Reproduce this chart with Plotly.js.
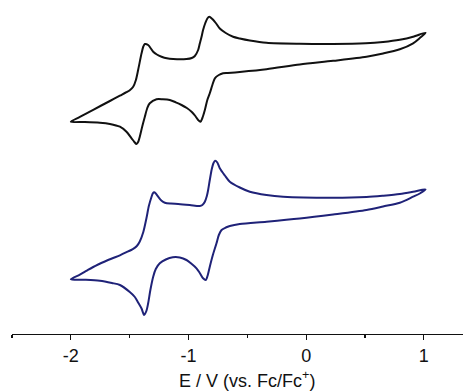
<!DOCTYPE html>
<html>
<head>
<meta charset="utf-8">
<script src="https://cdn.plot.ly/plotly-3.0.1.min.js"></script>
<style>html,body{margin:0;padding:0;background:#fff;}#chart{width:463px;height:392px;}</style>
</head>
<body>
<div id="chart"></div>
<script>
// Potential (V vs Fc/Fc+) and current (arbitrary units, traces offset vertically)
const blackE = [-2.00,-1.923,-1.810,-1.668,-1.583,-1.527,-1.499,-1.470,-1.447,-1.428,-1.399,-1.384,-1.371,-1.343,-1.300,-1.269,-1.229,-1.184,-1.131,-1.017,-0.972,-0.946,-0.918,-0.904,-0.889,-0.876,-0.857,-0.840,-0.823,-0.797,-0.768,-0.734,-0.683,-0.621,-0.564,-0.479,-0.337,-0.054,0.229,0.507,0.654,0.796,0.909,1.015,
  0.966,0.909,0.796,0.654,0.513,0.229,-0.054,-0.337,-0.564,-0.666,-0.706,-0.742,-0.776,-0.797,-0.819,-0.840,-0.861,-0.882,-0.898,-0.918,-0.942,-0.974,-1.014,-1.059,-1.108,-1.159,-1.218,-1.272,-1.329,-1.350,-1.371,-1.392,-1.414,-1.426,-1.442,-1.460,-1.484,-1.527,-1.583,-1.668,-1.753,-1.881,-2.00];
const blackI = [21.23,21.71,22.42,23.30,23.83,24.18,24.38,24.72,25.40,26.40,28.07,28.75,29.00,28.90,28.23,27.95,27.73,27.57,27.50,27.50,27.60,27.80,28.40,29.05,29.73,30.40,31.10,31.55,31.73,31.50,31.10,30.55,30.10,29.72,29.55,29.35,29.12,29.02,29.00,29.07,29.20,29.42,29.72,30.13,
  29.60,29.07,28.47,28.05,27.73,27.32,26.95,26.47,26.20,26.10,26.07,25.90,25.57,24.90,24.07,23.40,22.40,21.60,21.23,21.40,21.80,22.23,22.60,22.90,23.17,23.40,23.47,23.47,23.07,22.60,21.73,20.80,19.73,19.25,19.00,19.20,19.57,20.23,20.73,21.01,21.13,21.20,21.23];
const blueE = [-2.00,-1.923,-1.864,-1.810,-1.711,-1.651,-1.583,-1.527,-1.470,-1.439,-1.414,-1.384,-1.357,-1.337,-1.314,-1.303,-1.292,-1.278,-1.258,-1.231,-1.201,-1.150,-1.088,-0.989,-0.904,-0.882,-0.861,-0.844,-0.833,-0.819,-0.802,-0.789,-0.774,-0.755,-0.734,-0.691,-0.649,-0.564,-0.479,-0.337,-0.196,0.229,0.513,0.654,0.796,0.909,1.015,
  0.966,0.909,0.796,0.654,0.513,0.229,-0.054,-0.337,-0.564,-0.649,-0.683,-0.719,-0.742,-0.762,-0.793,-0.819,-0.836,-0.853,-0.876,-0.904,-0.932,-0.972,-1.017,-1.074,-1.133,-1.193,-1.244,-1.278,-1.300,-1.324,-1.343,-1.358,-1.377,-1.399,-1.428,-1.456,-1.499,-1.583,-1.651,-1.753,-1.872,-2.00];
const blueI = [5.47,5.93,6.34,6.70,7.25,7.55,7.87,8.18,8.52,8.80,9.25,10.20,11.60,12.80,13.73,14.07,14.17,14.05,13.73,13.35,13.13,13.04,13.00,12.90,12.80,12.90,13.23,13.80,14.40,15.40,16.50,17.05,17.33,17.15,16.57,15.85,15.23,14.65,14.23,13.90,13.73,13.63,13.70,13.83,14.00,14.23,14.47,
  14.05,13.73,13.13,12.75,12.40,11.95,11.55,11.23,11.00,10.80,10.65,10.40,9.90,9.07,7.90,6.73,5.90,5.40,5.57,6.10,6.57,7.00,7.40,7.65,7.67,7.45,7.07,6.50,5.73,4.40,3.07,2.30,1.90,2.55,3.15,3.70,4.20,4.90,5.10,5.33,5.43,5.47];
const tickVals = [-2,-1,0,1];
const tickText = ['-2','-1','0','1'];
const minorVals = [-2.5,-1.5,-0.5,0.5];
const xTitle = 'E / V (vs. Fc/Fc<sup>+</sup>)';

const FONT = 'Liberation Sans, Arial, sans-serif';
const traces = [
  {x: blackE, y: blackI, mode: 'lines', line: {color: '#111111', width: 2, shape: 'spline', smoothing: 0.8}, hoverinfo: 'skip'},
  {x: blueE, y: blueI, mode: 'lines', line: {color: '#1f2278', width: 2, shape: 'spline', smoothing: 0.8}, hoverinfo: 'skip'}
];
const layout = {
  width: 463, height: 392,
  margin: {l: 12, r: 0, t: 0, b: 58},
  paper_bgcolor: '#ffffff', plot_bgcolor: '#ffffff',
  showlegend: false,
  font: {family: FONT, size: 18, color: '#111'},
  xaxis: {
    range: [-2.5, 1.333], showgrid: false, zeroline: false,
    showline: true, linecolor: '#111', linewidth: 1.3,
    ticks: 'outside', ticklen: 5, tickwidth: 1.3, tickcolor: '#111',
    tickvals: tickVals, ticktext: tickText,
    minor: {tickvals: minorVals, ticks: 'outside', ticklen: 3, tickwidth: 1.2, tickcolor: '#111'},
    tickfont: {size: 18, family: FONT}
  },
  yaxis: {range: [0, 33.4], visible: false, showgrid: false, zeroline: false},
  annotations: [{
    text: xTitle, xref: 'paper', yref: 'paper', x: 0.522, y: -0.1377,
    xanchor: 'center', yanchor: 'middle', showarrow: false,
    font: {size: 18, family: FONT, color: '#111'}
  }]
};
Plotly.newPlot('chart', traces, layout, {staticPlot: true, displayModeBar: false});
</script>
</body>
</html>
